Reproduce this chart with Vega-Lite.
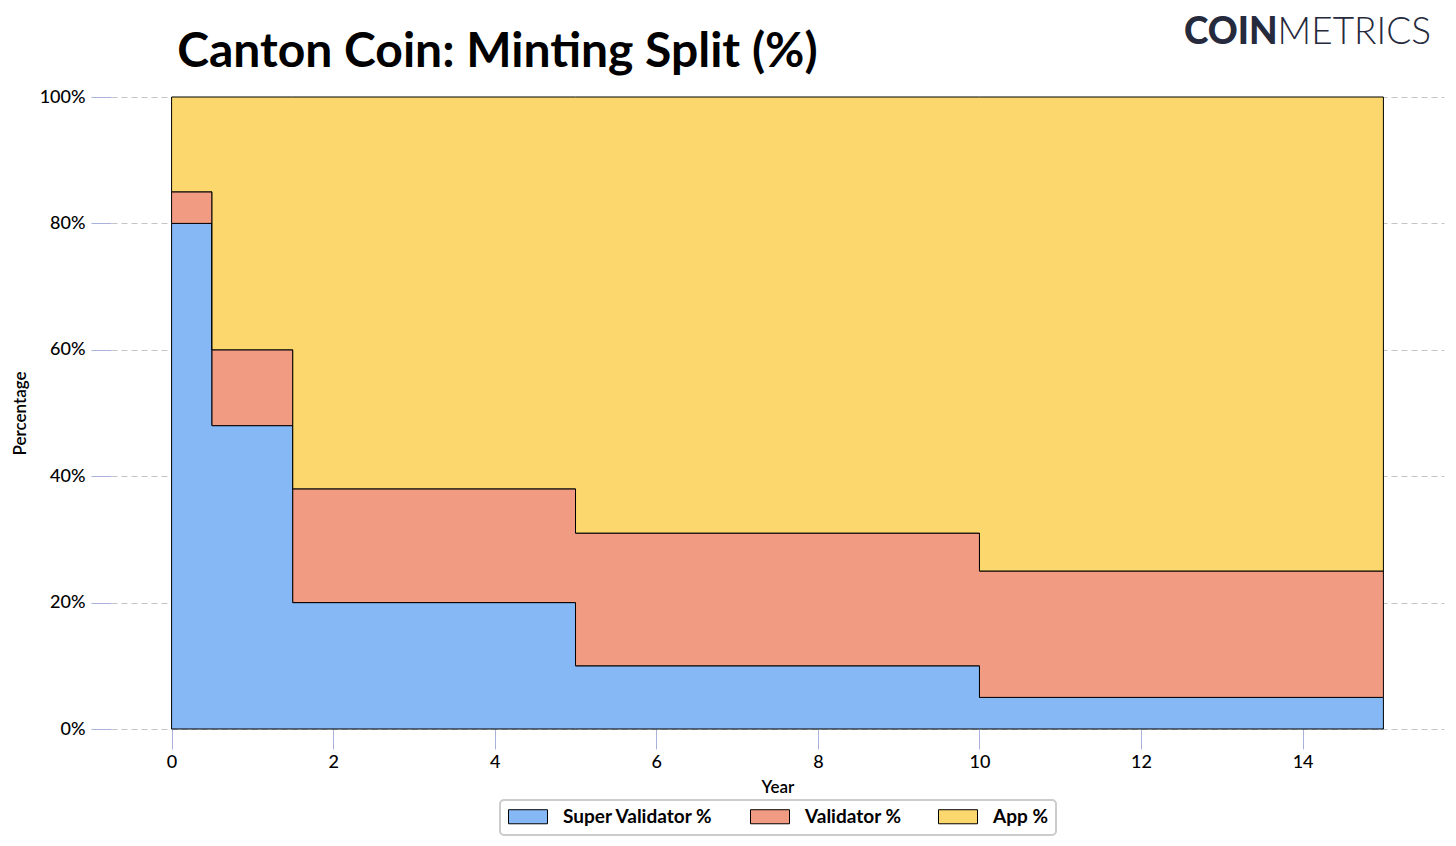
{
  "$schema": "https://vega.github.io/schema/vega-lite/v6.json",
  "autosize": {"type": "none"},
  "width": 1333,
  "height": 632,
  "padding": {"left": 111, "top": 97, "right": 12, "bottom": 117},
  "background": "white",
  "datasets": {
    "split": [
      {"year": 0, "series": "Super Validator %", "k": 1, "pct": 80},
      {"year": 0.5, "series": "Super Validator %", "k": 1, "pct": 48},
      {"year": 1.5, "series": "Super Validator %", "k": 1, "pct": 20},
      {"year": 5, "series": "Super Validator %", "k": 1, "pct": 10},
      {"year": 10, "series": "Super Validator %", "k": 1, "pct": 5},
      {"year": 15, "series": "Super Validator %", "k": 1, "pct": 5},
      {"year": 0, "series": "Validator %", "k": 2, "pct": 5},
      {"year": 0.5, "series": "Validator %", "k": 2, "pct": 12},
      {"year": 1.5, "series": "Validator %", "k": 2, "pct": 18},
      {"year": 5, "series": "Validator %", "k": 2, "pct": 21},
      {"year": 10, "series": "Validator %", "k": 2, "pct": 20},
      {"year": 15, "series": "Validator %", "k": 2, "pct": 20},
      {"year": 0, "series": "App %", "k": 3, "pct": 15},
      {"year": 0.5, "series": "App %", "k": 3, "pct": 40},
      {"year": 1.5, "series": "App %", "k": 3, "pct": 62},
      {"year": 5, "series": "App %", "k": 3, "pct": 69},
      {"year": 10, "series": "App %", "k": 3, "pct": 75},
      {"year": 15, "series": "App %", "k": 3, "pct": 75}
    ],
    "labels": [{"title": "Canton Coin: Minting Split (%)", "a": "COIN", "b": "METRICS"}]
  },
  "layer": [
    {
      "data": {"name": "split"},
      "mark": {"type": "area", "interpolate": "step-after", "stroke": "#000000", "strokeWidth": 1, "fillOpacity": 1},
      "encoding": {
        "x": {
          "field": "year", "type": "quantitative",
          "scale": {"domain": [-0.75, 15.75], "nice": false, "zero": false},
          "axis": {"title": "Year", "values": [0, 2, 4, 6, 8, 10, 12, 14], "format": "d", "grid": false, "domain": false,
                   "tickSize": 20, "tickColor": "#a9b2de", "labelPadding": 4, "titlePadding": 8}
        },
        "y": {
          "field": "pct", "type": "quantitative", "stack": "zero",
          "scale": {"domain": [0, 100], "nice": false},
          "axis": {"title": "Percentage", "values": [0, 20, 40, 60, 80, 100], "labelExpr": "datum.value + '%'",
                   "domain": false, "tickSize": 20, "tickColor": "#a9b2de", "labelPadding": 6,
                   "grid": true, "gridColor": "#c4c4c4", "gridDash": [6, 4], "gridWidth": 1, "titlePadding": 10}
        },
        "color": {
          "field": "series", "type": "nominal",
          "scale": {"domain": ["Super Validator %", "Validator %", "App %"], "range": ["#86b8f6", "#f19b83", "#fbd76e"]},
          "legend": {"title": null, "orient": "none", "direction": "horizontal", "legendX": 389, "legendY": 703}
        },
        "order": {"field": "k", "type": "quantitative"}
      }
    },
    {
      "data": {"name": "labels"},
      "mark": {"type": "text", "align": "left", "baseline": "alphabetic", "font": "Lato", "fontSize": 48, "fontWeight": "bold", "color": "#000000"},
      "encoding": {
        "x": {"datum": 0.07, "type": "quantitative"},
        "y": {"datum": 104.75, "type": "quantitative"},
        "text": {"field": "title"}
      }
    },
    {
      "data": {"name": "labels"},
      "mark": {"type": "text", "align": "right", "baseline": "middle", "font": "Lato", "fontSize": 37, "fontWeight": 900, "color": "#262a3d"},
      "encoding": {
        "x": {"datum": 13.69, "type": "quantitative"},
        "y": {"datum": 110.1, "type": "quantitative"},
        "text": {"field": "a"}
      }
    },
    {
      "data": {"name": "labels"},
      "mark": {"type": "text", "align": "left", "baseline": "middle", "font": "Lato", "fontSize": 37, "fontWeight": 300, "color": "#262a3d"},
      "encoding": {
        "x": {"datum": 13.69, "type": "quantitative"},
        "y": {"datum": 110.1, "type": "quantitative"},
        "text": {"field": "b"}
      }
    }
  ],
  "config": {
    "view": {"stroke": null},
    "font": "Lato",
    "axis": {
      "labelFont": "Lato", "labelFontSize": 18, "labelColor": "#000000", "labelFontWeight": 500,
      "titleFont": "Lato", "titleFontSize": 17, "titleColor": "#000000", "titleFontWeight": 600
    },
    "legend": {
      "labelFont": "Lato", "labelFontSize": 19, "labelFontWeight": "bold", "labelColor": "#000000",
      "symbolType": "M-1,-0.36H1V0.36H-1Z", "symbolSize": 1521,
      "symbolStrokeColor": "#000000", "symbolStrokeWidth": 1, "symbolOpacity": 1,
      "labelOffset": 15, "columnPadding": 36, "clipHeight": 17,
      "strokeColor": "#cccccc", "strokeWidth": 2, "cornerRadius": 4, "padding": 8,
      "fillColor": "white"
    }
  }
}
